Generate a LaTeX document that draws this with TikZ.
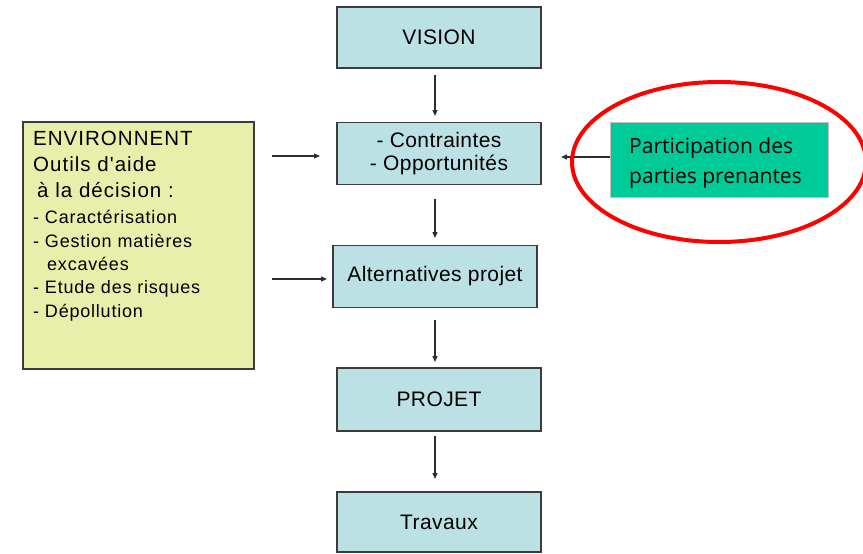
\documentclass[tikz,border=0pt]{standalone}
\usepackage{fontspec}
\setmainfont{Liberation Sans}
\newfontfamily\greenfont{Open Sans}
\newfontfamily\boxfont[LetterSpace=2]{Liberation Sans}
\newfontfamily\headfont[LetterSpace=5]{Liberation Sans}
\newfontfamily\smallfont[LetterSpace=4.4]{Liberation Sans}
\usetikzlibrary{arrows.meta,calc}
\definecolor{boxfill}{RGB}{188,225,228}
\definecolor{boxline}{RGB}{60,60,60}
\definecolor{envfill}{RGB}{232,239,170}
\definecolor{partfill}{RGB}{0,202,152}
\definecolor{arrowcol}{RGB}{45,45,45}
\tikzset{
  flowbox/.style={draw=boxline, line width=1.5pt, fill=boxfill, minimum width=204pt, inner sep=0pt, font=\boxfont\fontsize{21}{23}\selectfont, align=center},
  flowarrow/.style={draw=arrowcol, line width=1.3pt, -{Triangle[length=6pt,width=5pt]}},
  envline/.style={anchor=base west, inner sep=0pt, font=\headfont\fontsize{20.5}{22}\selectfont},
  envsmall/.style={anchor=base west, inner sep=0pt, font=\smallfont\fontsize{18}{20}\selectfont},
  parttext/.style={anchor=base west, inner sep=0pt, font=\greenfont\fontsize{21}{30}\selectfont},
}
\begin{document}
\begin{tikzpicture}[x=1pt,y=-1pt]
\useasboundingbox (0,0) rectangle (863,554);
% central column
\node[flowbox, minimum height=61pt] (vision) at (439,37.5) {VISION};
\node[flowbox, minimum height=62pt] (contr) at (439,153.5) {- Contraintes\\- Opportunités};
\node[flowbox, minimum height=62pt] (alt) at (435,276.5) {Alternatives projet};
\node[flowbox, minimum height=63pt] (projet) at (439,399.5) {PROJET};
\node[flowbox, minimum height=60pt] (travaux) at (439,522) {Travaux};
% vertical arrows
\coordinate (a1s) at (435,75); \coordinate (a1e) at (435,116);
\coordinate (a2s) at (435,199); \coordinate (a2e) at (435,238);
\coordinate (a3s) at (435,320); \coordinate (a3e) at (435,362);
\coordinate (a4s) at (435,436); \coordinate (a4e) at (435,479);
\draw[flowarrow] (a1s) -- (a1e);
\draw[flowarrow] (a2s) -- (a2e);
\draw[flowarrow] (a3s) -- (a3e);
\draw[flowarrow] (a4s) -- (a4e);
% left box
\node[draw=boxline, line width=1.5pt, fill=envfill, minimum width=231pt, minimum height=247pt, inner sep=0pt] (env) at (138.5,245.5) {};
\node[envline] (e1) at (33,145) {ENVIRONNENT};
\node[envline] (e2) at (33,171) {Outils d'aide};
\node[envline] (e3) at (37,197) {à la décision :};
\node[envsmall] (e4) at (33,223) {- Caractérisation};
\node[envsmall] (e5) at (33,247) {- Gestion matières};
\node[envsmall] (e6) at (47,270) {excavées};
\node[envsmall] (e7) at (33,293) {- Etude des risques};
\node[envsmall] (e8) at (33,317) {- Dépollution};
\coordinate (l1s) at (272,156); \coordinate (l1e) at (320,156);
\coordinate (l2s) at (272,279); \coordinate (l2e) at (327,279);
\draw[flowarrow] (l1s) -- (l1e);
\draw[flowarrow] (l2s) -- (l2e);
% participation
\node[draw=black!25, line width=0.8pt, fill=partfill, minimum width=218pt, minimum height=75pt, inner sep=0pt] (part) at (719,159.5) {};
\node[parttext] (pt1) at (629,153) {Participation des};
\node[parttext] (pt2) at (629,183) {parties prenantes};
\coordinate (pe) at (561,157);
\draw[flowarrow] (part.west |- pe) -- (pe);
\draw[red, line width=4pt] (719,162) ellipse [x radius=147pt, y radius=80pt];
\end{tikzpicture}
\end{document}
